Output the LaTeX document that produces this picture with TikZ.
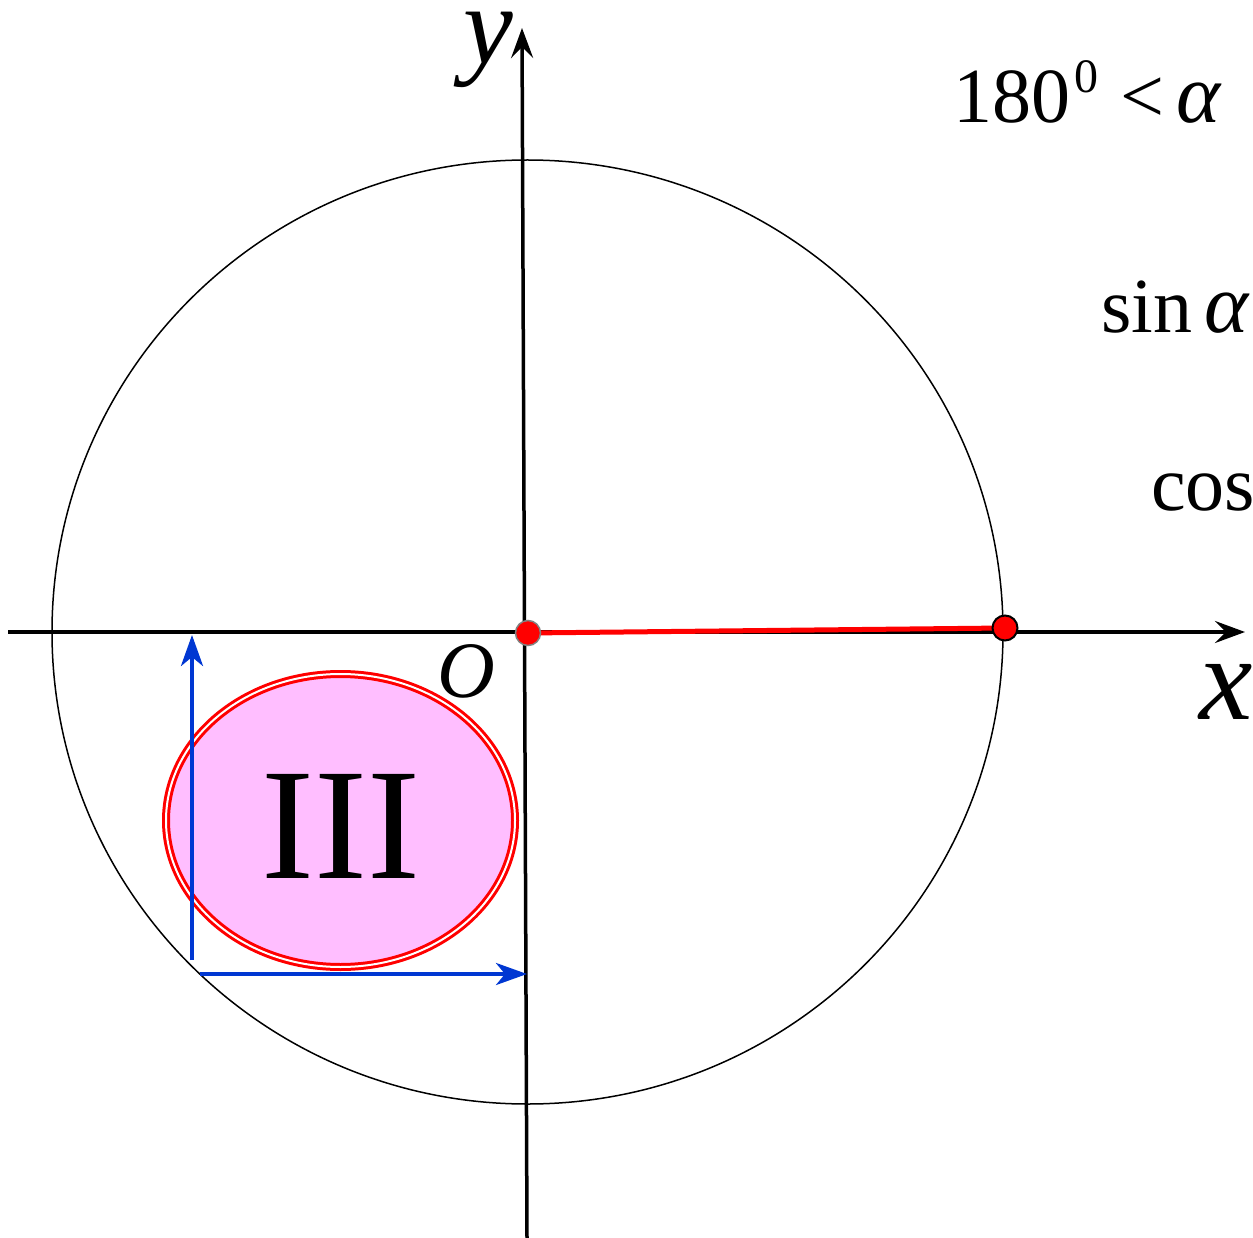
\documentclass[tikz,border=0pt]{standalone}
\usepackage{fontspec}
\setmainfont{Liberation Serif}[ItalicFont={Liberation Serif Italic}]
\usetikzlibrary{arrows.meta,shapes.geometric}
\definecolor{pinkfill}{RGB}{255,190,255}
\definecolor{arrowblue}{RGB}{0,55,210}
\begin{document}
\begin{tikzpicture}[x=1pt,y=-1pt,
  axisline/.style={line width=3.5pt,-{Stealth[length=30pt,width=22pt,inset=11pt]}},
  bluearrow/.style={arrowblue,line width=4pt,-{Stealth[length=31pt,width=22pt,inset=9pt]}},
  reddot/.style={circle,fill=red,inner sep=0pt,minimum size=25pt},
  bigtxt/.style={inner sep=0pt,anchor=base west,font=\fontsize{78}{90}\selectfont},
  lbl/.style={inner sep=0pt,anchor=base}]
\clip (0,0) rectangle (1253,1238);
% unit circle
\node[draw,ellipse,line width=1.5pt,minimum width=951pt,minimum height=944pt,inner sep=0pt] (circ) at (527.5,632) {};
% axes
\coordinate (xs) at (8,632);
\coordinate (xe) at (1245,632);
\coordinate (ys) at (527,1238);
\coordinate (ye) at (522,28);
\draw[axisline] (xs) -- (xe);
\draw[axisline] (ys) -- (ye);
% red segment with dots
\coordinate (oc) at (528,633);
\coordinate (pc) at (1005,628);
\draw[red,line width=5pt] (oc) -- (pc);
\node[reddot,draw={rgb,255:red,130;green,130;blue,130},line width=1.5pt] (odot) at (oc) {};
\node[reddot,draw=black,line width=2pt] (pdot) at (pc) {};
% quadrant III ellipse
\node[ellipse,fill=pinkfill,draw=red,line width=3pt,double=white,double distance=2pt,
      minimum width=349pt,minimum height=293pt,inner sep=0pt] (q3) at (340.5,820.5) {};
\node[inner sep=0pt,anchor=base,font=\fontsize{159}{170}\selectfont] (q3txt) at (341,878) {III};
% blue arrows
\coordinate (v1) at (192,960);
\coordinate (v2) at (192,635);
\coordinate (h1) at (200,974);
\coordinate (h2) at (527,974);
\draw[bluearrow] (v1) -- (v2);
\draw[bluearrow] (h1) -- (h2);
% axis labels
\node[lbl,font=\fontsize{112}{120}\selectfont\itshape] (ylab) at (488,64) {y};
\node[lbl,font=\fontsize{120}{130}\selectfont\itshape] (xlab) at (1226,719) {x};
\node[lbl,font=\fontsize{80}{90}\selectfont\itshape] (olab) at (466,697) {O};
% right texts
\node[bigtxt] (t180) at (953,123) {180};
\node[bigtxt,font=\fontsize{48}{55}\selectfont] (tdeg) at (1074,93) {0};
\node[bigtxt] (tlt) at (1120,123) {<};
\node[bigtxt,font=\fontsize{84}{90}\selectfont\itshape] (talpha) at (1176,123) {α};
\node[bigtxt] (tsin) at (1101,333) {sin};
\node[bigtxt,font=\fontsize{84}{90}\selectfont\itshape] (talpha2) at (1204,333) {α};
\node[bigtxt] (tcos) at (1151,510) {cos};
\end{tikzpicture}
\end{document}
